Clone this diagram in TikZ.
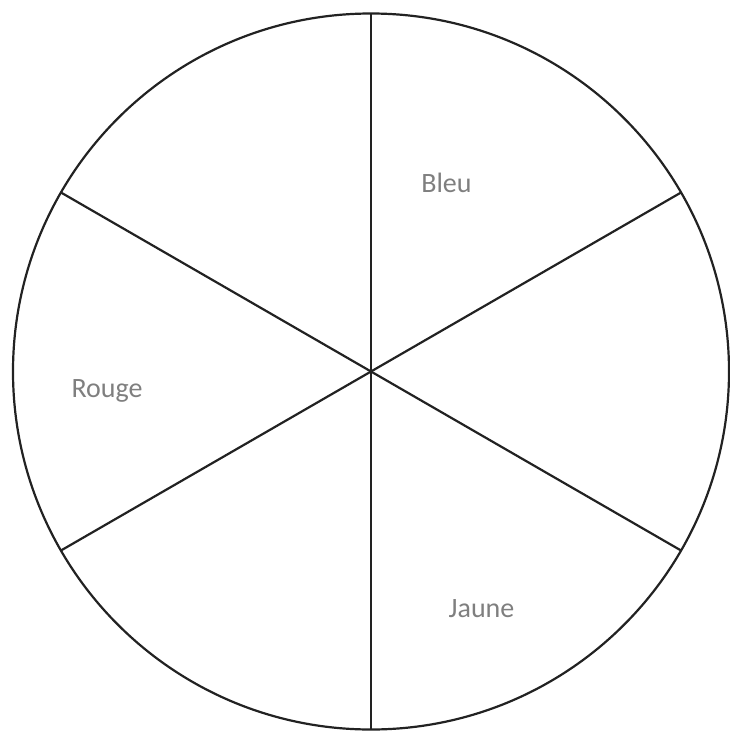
\documentclass[tikz,border=0pt]{standalone}
\usepackage{fontspec}
\setmainfont{Carlito}
\usetikzlibrary{calc}
\definecolor{labelgray}{HTML}{7F7F7F}
\definecolor{linegray}{HTML}{222222}
\begin{document}
\begin{tikzpicture}[x=1pt,y=-1pt,
  spoke/.style={draw=linegray,line width=2.2pt},
  lbl/.style={text=labelgray,font=\fontsize{28}{32}\selectfont,inner sep=0pt,anchor=base}]
\useasboundingbox (0,0) rectangle (730,731);
\coordinate (c) at (371,371.5);
\draw[spoke] (c) circle[radius=358];
\foreach \a in {90,210,330} {
  \draw[spoke] ($(c)+(\a:358)$) -- ($(c)+(\a+180:358)$);
}
\node[lbl] (bleu) at (446.5,192.5) {Bleu};
\node[lbl] (rouge) at (107,397) {Rouge};
\node[lbl] (jaune) at (481.5,617) {Jaune};
\end{tikzpicture}
\end{document}
